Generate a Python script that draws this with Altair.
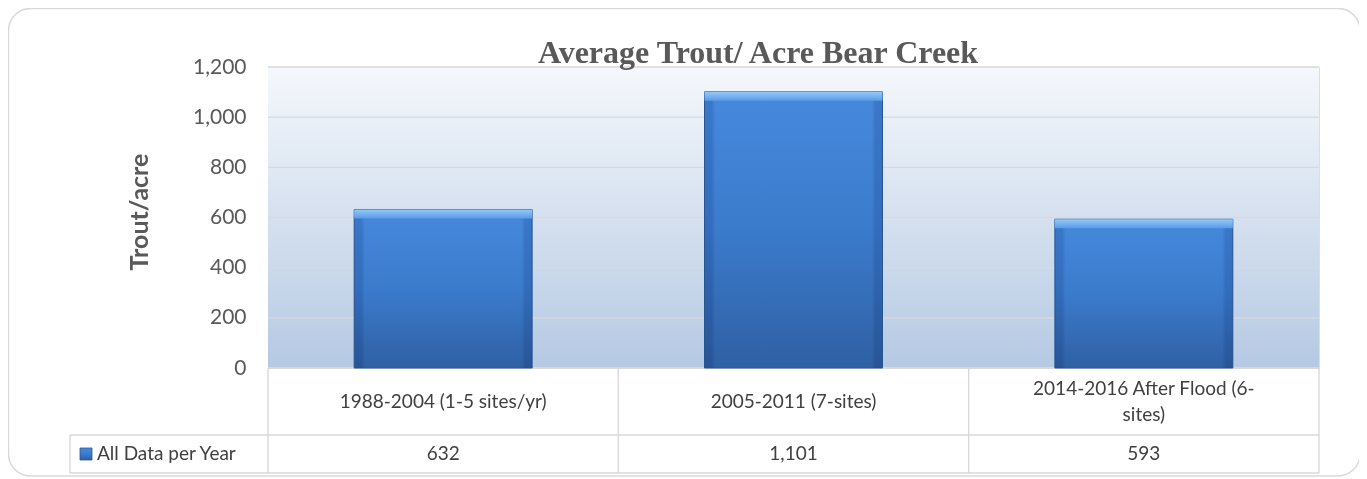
import altair as alt
import pandas as pd

# ---- data ----
categories = ["1988-2004 (1-5 sites/yr)", "2005-2011 (7-sites)", "2014-2016 After Flood (6-sites)"]
cat_labels = ["1988-2004 (1-5 sites/yr)", "2005-2011 (7-sites)", "2014-2016 After Flood (6-\nsites)"]
values = [632, 1101, 593]
y_ticks = [0, 200, 400, 600, 800, 1000, 1200]
series_name = "All Data per Year"
chart_title = "Average Trout/ Acre Bear Creek"
y_title = "Trout/acre"

# ---- layout ----
W, H = 1051, 301
ROW1, ROW2 = 67, 38
LEG_W = 198
GRID = "#d9d9d9"
TXT = "#404040"
FONT = "Lato"

df = pd.DataFrame({"cat": categories, "label": cat_labels, "value": values})
df["nlines"] = [l.count("\n") + 1 for l in cat_labels]
ticks_df = pd.DataFrame({"tick": y_ticks})
one = pd.DataFrame({"a": [0]})

xenc = alt.X("cat:N", sort=categories, axis=None,
             scale=alt.Scale(paddingInner=0.492, paddingOuter=0.246))
yscale = alt.Scale(domain=[0, 1200])

bar_grad = alt.Gradient(gradient="linear", x1=0, x2=0, y1=0, y2=1,
                        stops=[alt.GradientStop(color="#4689dc", offset=0),
                               alt.GradientStop(color="#3b7bcc", offset=0.5),
                               alt.GradientStop(color="#2f60a3", offset=1)])
side_grad = alt.Gradient(gradient="linear", x1=0, x2=1, y1=0, y2=0,
                         stops=[alt.GradientStop(color="#1f4f8f", offset=0),
                                alt.GradientStop(color="#1f4f8f", offset=0.04),
                                alt.GradientStop(color="#ffffff", offset=0.06),
                                alt.GradientStop(color="#ffffff", offset=0.94),
                                alt.GradientStop(color="#1f4f8f", offset=0.96),
                                alt.GradientStop(color="#1f4f8f", offset=1)])
hi_grad = alt.Gradient(gradient="linear", x1=0, x2=0, y1=0, y2=1,
                       stops=[alt.GradientStop(color="#94caf8", offset=0),
                              alt.GradientStop(color="#5a9be6", offset=1)])
bg_grad = alt.Gradient(gradient="linear", x1=0, x2=0, y1=0, y2=1,
                       stops=[alt.GradientStop(color="#f5f8fc", offset=0),
                              alt.GradientStop(color="#b5c9e3", offset=1)])

background = alt.Chart(one).mark_rect(fill=bg_grad).encode(
    x=alt.value(0), x2=alt.value(W), y=alt.value(0), y2=alt.value(H))

grid = alt.Chart(ticks_df).mark_rule(color=GRID, strokeWidth=1.4).encode(
    y=alt.Y("tick:Q", scale=yscale,
            axis=alt.Axis(values=y_ticks, format=",d", grid=False,
                          domain=False, ticks=False, labelFont=FONT, labelFontSize=21,
                          labelColor="#595959", labelPadding=22, title=None)),
    x=alt.value(0), x2=alt.value(W))

bars = alt.Chart(df).mark_bar(fill=bar_grad, stroke="#2b5a97", strokeWidth=1).encode(
    x=xenc, y=alt.Y("value:Q", scale=yscale))
sides = alt.Chart(df).mark_bar(fill=side_grad, opacity=0.18, blend="multiply").encode(
    x=xenc, y=alt.Y("value:Q", scale=yscale))
bevel = alt.Chart(df).mark_bar(fill=hi_grad, y2Offset=9).encode(
    x=xenc, y=alt.Y("value:Q", scale=yscale), y2="value:Q")

def rule(x1, x2, y1, y2):
    return alt.Chart(one).mark_rule(color=GRID, strokeWidth=1.4).encode(
        x=alt.value(x1), x2=alt.value(x2), y=alt.value(y1), y2=alt.value(y2))

yb = H + ROW1 + ROW2
lines = [
    rule(0, W, H, H),
    rule(-LEG_W, W, H + ROW1, H + ROW1),
    rule(-LEG_W, W, yb, yb),
    rule(-LEG_W, -LEG_W, H + ROW1, yb),
]
for i in range(4):
    lines.append(rule(W * i / 3, W * i / 3, H, yb))

border = alt.Chart(one).mark_rect(fillOpacity=0, stroke=GRID, strokeWidth=1.5, cornerRadius=22).encode(
    x=alt.value(-259.5), x2=alt.value(1092), y=alt.value(-58.5), y2=alt.value(409))

LH = 26
cat_text1 = alt.Chart(df).transform_filter("datum.nlines == 1").mark_text(
    font=FONT, fontSize=19, color=TXT, baseline="middle").encode(
    x=alt.X("cat:N", sort=categories, axis=None), y=alt.value(H + ROW1 / 2), text="label:N")
cat_text2 = alt.Chart(df).transform_filter("datum.nlines == 2").mark_text(
    font=FONT, fontSize=19, color=TXT, lineBreak="\n", lineHeight=LH, baseline="middle",
    dy=-LH / 2).encode(
    x=alt.X("cat:N", sort=categories, axis=None), y=alt.value(H + ROW1 / 2), text="label:N")
val_text = alt.Chart(df).mark_text(font=FONT, fontSize=19, color=TXT, baseline="middle").encode(
    x=alt.X("cat:N", sort=categories, axis=None), y=alt.value(H + ROW1 + ROW2 / 2),
    text=alt.Text("value:Q", format=","))

leg_icon = alt.Chart(one).mark_rect(fill=bar_grad, stroke="#2b5a97", strokeWidth=0.8).encode(
    x=alt.value(-188), x2=alt.value(-176), y=alt.value(H + ROW1 + ROW2 / 2 - 6),
    y2=alt.value(H + ROW1 + ROW2 / 2 + 6))
leg_text = alt.Chart(pd.DataFrame({"t": [series_name]})).mark_text(
    font=FONT, fontSize=19, color=TXT, align="left", baseline="middle").encode(
    x=alt.value(-171), y=alt.value(H + ROW1 + ROW2 / 2), text="t:N")

title_text = alt.Chart(pd.DataFrame({"t": [chart_title]})).mark_text(
    font="Liberation Serif", fontSize=32, fontWeight="bold", color="#595959",
    align="center", baseline="alphabetic").encode(
    x=alt.value(490), y=alt.value(-4), text="t:N")

ytitle = alt.Chart(pd.DataFrame({"t": [y_title]})).mark_text(
    font=FONT, fontSize=25, fontWeight="bold", color="#595959", angle=270,
    align="center", baseline="middle").encode(
    x=alt.value(-128), y=alt.value(145), text="t:N")

chart = alt.layer(border, background, grid, *lines, bars, sides, bevel, cat_text1, cat_text2,
                  val_text, leg_icon, leg_text, title_text, ytitle).properties(
    width=W, height=H,
    autosize=alt.AutoSizeParams(type="none"),
    padding={"left": 260, "top": 59, "right": 40, "bottom": 111},
).configure_view(stroke=None).configure(background="white")

chart.save("out.html", embed_options={"renderer": "svg", "actions": False})
